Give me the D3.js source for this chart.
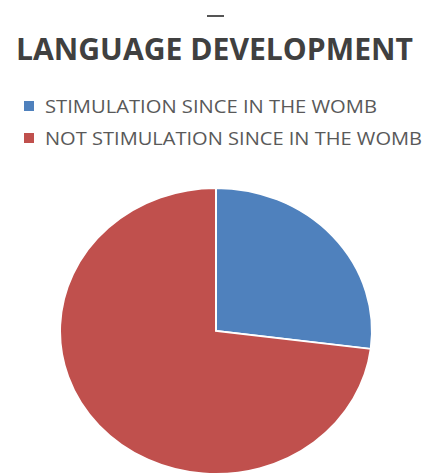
<!DOCTYPE html>
<html><head><meta charset="utf-8">
<script src="https://cdn.jsdelivr.net/npm/d3@7"></script>
<style>body{margin:0;background:#fff}svg{display:block}</style>
</head><body>
<script>
const categories = ["STIMULATION SINCE IN THE WOMB", "NOT STIMULATION SINCE IN THE WOMB"];
const values = [27, 73];
const colors = ["#4F81BD", "#C0504D"];
const title = "LANGUAGE DEVELOPMENT";

const W = 424, H = 474;
const svg = d3.select("body").append("svg").attr("width", W).attr("height", H);

svg.append("rect").attr("x", 207).attr("y", 15).attr("width", 17).attr("height", 2).attr("fill", "#555");

svg.append("text").attr("x", 16).attr("y", 60).text(title)
  .attr("font-family", "Open Sans").attr("font-weight", "bold").attr("font-size", 30)
  .attr("fill", "#404040").attr("textLength", 397).attr("lengthAdjust", "spacingAndGlyphs");

const leg = svg.append("g");
categories.forEach((c, i) => {
  const y = 106 + i * 32;
  leg.append("rect").attr("x", 24).attr("y", y - 5).attr("width", 10).attr("height", 10).attr("fill", colors[i]);
  leg.append("text").attr("x", 45).attr("y", y + 6.5).text(c)
    .attr("font-family", "Open Sans").attr("font-size", 17.5).attr("fill", "#595959")
    .attr("textLength", i === 0 ? 332 : 377).attr("lengthAdjust", "spacingAndGlyphs");
});

const rx = 156, ry = 143;
const pie = d3.pie().sort(null).value(d => d)(values);
const arc = d3.arc().innerRadius(0).outerRadius(rx);
const g = svg.append("g").attr("transform", `translate(216,331) scale(1,${ry/rx})`);
g.selectAll("path").data(pie).join("path")
  .attr("d", arc).attr("fill", (d, i) => colors[i])
  .attr("stroke", "#fff").attr("stroke-width", 2);
</script>
</body></html>
